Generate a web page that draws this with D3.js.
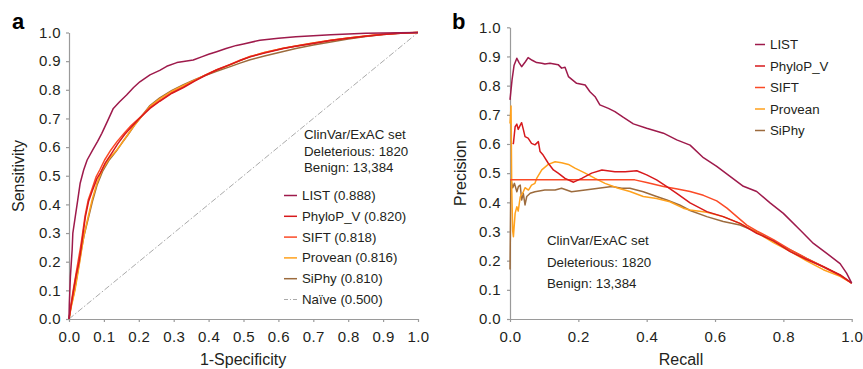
<!DOCTYPE html>
<html>
<head>
<meta charset="utf-8">
<script src="https://cdn.jsdelivr.net/npm/d3@7"></script>
<style>
  body { margin: 0; background: #fff; }
  svg { font-family: "Liberation Sans", Arial, sans-serif; }
</style>
</head>
<body>
<svg id="chart" width="863" height="369"></svg>
<script>
// ---- data ----
const methods = ["LIST", "PhyloP_V", "SIFT", "Provean", "SiPhy"];
const aucValues = ["0.888", "0.820", "0.818", "0.816", "0.810"];
const naiveAuc = "0.500";
const colors = ["#9e1a4b", "#d7191c", "#fb4a26", "#ffa11c", "#9c6b3d"];

const rocTicks = [0, 0.1, 0.2, 0.3, 0.4, 0.5, 0.6, 0.7, 0.8, 0.9, 1.0];
const prTicksX = [0, 0.2, 0.4, 0.6, 0.8, 1.0];
const prTicksY = [0, 0.1, 0.2, 0.3, 0.4, 0.5, 0.6, 0.7, 0.8, 0.9, 1.0];

const setInfo = ["ClinVar/ExAC set", "Deleterious: 1820", "Benign: 13,384"];

// ROC curves [1-specificity, sensitivity]
const rocLIST = [[0,0],[0.001,0.055],[0.004,0.148],[0.009,0.241],[0.011,0.3],[0.018,0.357],[0.025,0.415],[0.032,0.474],[0.042,0.52],[0.052,0.555],[0.068,0.59],[0.082,0.62],[0.094,0.648],[0.11,0.69],[0.127,0.735],[0.145,0.758],[0.165,0.782],[0.185,0.808],[0.203,0.828],[0.232,0.852],[0.26,0.868],[0.28,0.882],[0.309,0.895],[0.328,0.899],[0.356,0.904],[0.38,0.915],[0.4,0.924],[0.423,0.933],[0.45,0.944],[0.48,0.955],[0.5,0.96],[0.547,0.973],[0.6,0.98],[0.65,0.985],[0.7,0.989],[0.75,0.992],[0.8,0.995],[0.85,0.997],[0.9,0.998],[0.95,0.999],[1,1]];
const rocPhyloP = [[0,0],[0.005,0.04],[0.013,0.1],[0.02,0.15],[0.028,0.194],[0.034,0.24],[0.039,0.287],[0.047,0.357],[0.056,0.41],[0.066,0.445],[0.08,0.49],[0.09,0.51],[0.104,0.545],[0.123,0.58],[0.14,0.612],[0.16,0.645],[0.18,0.672],[0.2,0.698],[0.232,0.735],[0.26,0.76],[0.295,0.788],[0.328,0.808],[0.36,0.83],[0.39,0.85],[0.423,0.869],[0.46,0.887],[0.49,0.902],[0.519,0.915],[0.56,0.928],[0.614,0.944],[0.65,0.952],[0.7,0.962],[0.75,0.972],[0.8,0.98],[0.85,0.987],[0.9,0.993],[0.95,0.997],[1,1]];
const rocSIFT = [[0,0],[0.005,0.045],[0.012,0.1],[0.019,0.15],[0.026,0.2],[0.033,0.25],[0.038,0.29],[0.046,0.36],[0.055,0.415],[0.065,0.45],[0.078,0.497],[0.088,0.52],[0.102,0.555],[0.12,0.59],[0.138,0.62],[0.158,0.648],[0.178,0.675],[0.2,0.7],[0.232,0.738],[0.26,0.762],[0.295,0.79],[0.328,0.81],[0.36,0.832],[0.39,0.851],[0.423,0.87],[0.46,0.888],[0.49,0.903],[0.519,0.916],[0.56,0.93],[0.614,0.945],[0.65,0.953],[0.7,0.963],[0.75,0.973],[0.8,0.981],[0.85,0.988],[0.9,0.994],[0.95,0.998],[1,1]];
const rocProvean = [[0,0],[0.006,0.04],[0.017,0.1],[0.024,0.15],[0.03,0.194],[0.036,0.24],[0.042,0.287],[0.055,0.357],[0.066,0.415],[0.08,0.474],[0.095,0.52],[0.115,0.56],[0.137,0.59],[0.155,0.62],[0.172,0.65],[0.19,0.68],[0.203,0.7],[0.232,0.742],[0.26,0.768],[0.295,0.795],[0.328,0.815],[0.36,0.834],[0.39,0.851],[0.423,0.869],[0.46,0.886],[0.49,0.902],[0.519,0.916],[0.56,0.93],[0.614,0.945],[0.65,0.953],[0.7,0.963],[0.75,0.973],[0.8,0.981],[0.85,0.988],[0.9,0.994],[0.95,0.998],[1,1]];
const rocSiPhy = [[0,0],[0.006,0.045],[0.016,0.1],[0.023,0.15],[0.03,0.2],[0.036,0.245],[0.043,0.29],[0.056,0.355],[0.067,0.41],[0.081,0.47],[0.096,0.515],[0.114,0.553],[0.135,0.585],[0.152,0.615],[0.17,0.645],[0.188,0.677],[0.203,0.7],[0.232,0.745],[0.26,0.772],[0.295,0.798],[0.328,0.818],[0.36,0.835],[0.39,0.85],[0.423,0.865],[0.46,0.88],[0.49,0.893],[0.519,0.905],[0.56,0.918],[0.614,0.934],[0.65,0.944],[0.7,0.956],[0.75,0.967],[0.8,0.977],[0.85,0.986],[0.9,0.993],[0.95,0.997],[1,1]];
const rocNaive = [[0,0],[1,1]];

// Precision-recall curves [recall, precision]
const prLIST = [[0,0.751],[0.006,0.82],[0.012,0.87],[0.02,0.894],[0.026,0.88],[0.034,0.865],[0.045,0.882],[0.053,0.896],[0.065,0.887],[0.078,0.879],[0.093,0.877],[0.102,0.874],[0.117,0.877],[0.141,0.872],[0.151,0.86],[0.161,0.863],[0.171,0.831],[0.195,0.808],[0.22,0.802],[0.234,0.779],[0.249,0.762],[0.263,0.734],[0.288,0.722],[0.307,0.711],[0.332,0.691],[0.361,0.669],[0.4,0.654],[0.449,0.637],[0.488,0.614],[0.527,0.596],[0.566,0.553],[0.605,0.523],[0.644,0.489],[0.683,0.455],[0.722,0.437],[0.761,0.398],[0.8,0.362],[0.849,0.305],[0.888,0.259],[0.927,0.225],[0.966,0.19],[0.985,0.157],[1,0.123]];
const prPhyloP = [[0.008,0.6],[0.01,0.602],[0.015,0.659],[0.02,0.668],[0.024,0.65],[0.029,0.662],[0.034,0.673],[0.039,0.65],[0.044,0.625],[0.053,0.62],[0.063,0.602],[0.073,0.597],[0.083,0.608],[0.088,0.574],[0.097,0.562],[0.112,0.534],[0.127,0.511],[0.141,0.5],[0.161,0.482],[0.186,0.469],[0.21,0.482],[0.239,0.5],[0.269,0.511],[0.307,0.505],[0.337,0.505],[0.371,0.508],[0.4,0.494],[0.429,0.477],[0.459,0.454],[0.488,0.431],[0.527,0.398],[0.576,0.368],[0.624,0.351],[0.673,0.328],[0.722,0.294],[0.771,0.268],[0.82,0.231],[0.868,0.204],[0.917,0.179],[0.966,0.151],[1,0.123]];
const prSIFT = [[0,0.477],[0.1,0.477],[0.2,0.477],[0.3,0.477],[0.365,0.477],[0.4,0.468],[0.449,0.454],[0.49,0.446],[0.527,0.437],[0.566,0.424],[0.605,0.405],[0.635,0.38],[0.663,0.352],[0.693,0.322],[0.722,0.302],[0.771,0.272],[0.82,0.238],[0.868,0.208],[0.917,0.179],[0.966,0.149],[1,0.123]];
const prProvean = [[0,0.67],[0.003,0.73],[0.004,0.6],[0.005,0.45],[0.008,0.3],[0.01,0.282],[0.015,0.362],[0.02,0.385],[0.024,0.37],[0.03,0.419],[0.039,0.436],[0.044,0.45],[0.054,0.442],[0.063,0.459],[0.073,0.465],[0.078,0.482],[0.093,0.511],[0.112,0.53],[0.132,0.539],[0.151,0.536],[0.171,0.53],[0.19,0.517],[0.22,0.5],[0.249,0.482],[0.278,0.465],[0.317,0.448],[0.351,0.437],[0.39,0.42],[0.429,0.413],[0.468,0.402],[0.507,0.38],[0.527,0.374],[0.576,0.366],[0.624,0.351],[0.673,0.328],[0.722,0.297],[0.771,0.262],[0.82,0.232],[0.868,0.199],[0.917,0.169],[0.966,0.146],[1,0.123]];
const prSiPhy = [[0,0.17],[0.002,0.4],[0.003,0.477],[0.008,0.45],[0.013,0.465],[0.02,0.436],[0.025,0.455],[0.03,0.459],[0.034,0.408],[0.039,0.43],[0.044,0.391],[0.049,0.42],[0.059,0.431],[0.073,0.436],[0.102,0.442],[0.132,0.442],[0.151,0.448],[0.18,0.436],[0.22,0.442],[0.259,0.448],[0.298,0.454],[0.327,0.448],[0.351,0.448],[0.39,0.436],[0.429,0.42],[0.459,0.408],[0.498,0.39],[0.527,0.372],[0.576,0.351],[0.624,0.334],[0.673,0.322],[0.722,0.299],[0.771,0.265],[0.82,0.237],[0.868,0.208],[0.917,0.179],[0.966,0.151],[1,0.123]];

const rocCurves = [rocLIST, rocPhyloP, rocSIFT, rocProvean, rocSiPhy];
const prCurves = [prLIST, prPhyloP, prSIFT, prProvean, prSiPhy];

// ---- drawing ----
const svg = d3.select("#chart");
const axisColor = "#9a9a9a";
const textColor = "#231f20";

function styleAxis(g) {
  g.selectAll("path.domain").attr("stroke", axisColor).attr("stroke-width", 1.2);
  g.selectAll(".tick line").attr("stroke", axisColor).attr("stroke-width", 1.2);
  g.selectAll(".tick text").attr("fill", textColor)
    .style("font-size", "15px").style("letter-spacing", "0.4px");
}

const fmt = d3.format(".1f");

// panel a
const xA = d3.scaleLinear().domain([0, 1]).range([69, 418]);
const yA = d3.scaleLinear().domain([0, 1]).range([319, 32.5]);

svg.append("g").attr("transform", "translate(0,319)")
  .call(d3.axisBottom(xA).tickValues(rocTicks).tickFormat(fmt).tickSize(3).tickSizeOuter(0).tickPadding(9.5))
  .call(styleAxis);
svg.append("g").attr("transform", "translate(69,0)")
  .call(d3.axisLeft(yA).tickValues(rocTicks).tickFormat(fmt).tickSize(3).tickSizeOuter(0).tickPadding(5))
  .call(styleAxis);

const lineA = d3.line().x(d => xA(d[0])).y(d => yA(d[1]));
svg.append("path").datum(rocNaive).attr("d", lineA)
  .attr("fill", "none").attr("stroke", "#aaaaaa").attr("stroke-width", 1)
  .attr("stroke-dasharray", "6,2,1.5,2");
// draw in reverse so LIST ends on top
rocCurves.map((c, i) => [c, i]).reverse().forEach(([c, i]) => {
  svg.append("path").datum(c).attr("d", lineA)
    .attr("fill", "none").attr("stroke", colors[i]).attr("stroke-width", 1.5)
    .attr("stroke-linejoin", "round");
});

// panel b
const xB = d3.scaleLinear().domain([0, 1]).range([510, 851.7]);
const yB = d3.scaleLinear().domain([0, 1]).range([319, 27.3]);

svg.append("g").attr("transform", "translate(0,319)")
  .call(d3.axisBottom(xB).tickValues(prTicksX).tickFormat(fmt).tickSize(3).tickSizeOuter(0).tickPadding(9.5))
  .call(styleAxis);
svg.append("g").attr("transform", "translate(510,0)")
  .call(d3.axisLeft(yB).tickValues(prTicksY).tickFormat(fmt).tickSize(3).tickSizeOuter(0).tickPadding(6))
  .call(styleAxis);

const lineB = d3.line().x(d => xB(d[0])).y(d => yB(d[1]));
const prOrder = [4, 3, 2, 1, 0];
prOrder.forEach(i => {
  svg.append("path").datum(prCurves[i]).attr("d", lineB)
    .attr("fill", "none").attr("stroke", colors[i]).attr("stroke-width", 1.5)
    .attr("stroke-linejoin", "round");
});

// axis titles
svg.append("text").attr("x", 243).attr("y", 365).attr("text-anchor", "middle")
  .attr("fill", textColor).style("font-size", "16px").text("1-Specificity");
svg.append("text").attr("transform", "translate(24,176) rotate(-90)").attr("text-anchor", "middle")
  .attr("fill", textColor).style("font-size", "16px").text("Sensitivity");
svg.append("text").attr("x", 681).attr("y", 365).attr("text-anchor", "middle")
  .attr("fill", textColor).style("font-size", "16px").text("Recall");
svg.append("text").attr("transform", "translate(466,173) rotate(-90)").attr("text-anchor", "middle")
  .attr("fill", textColor).style("font-size", "16px").text("Precision");

// panel letters
svg.append("text").attr("x", 12).attr("y", 29).attr("fill", "#000")
  .style("font-size", "22px").style("font-weight", "bold").text("a");
svg.append("text").attr("x", 452).attr("y", 29).attr("fill", "#000")
  .style("font-size", "22px").style("font-weight", "bold").text("b");

// panel a set info + legend
setInfo.forEach((t, i) => {
  svg.append("text").attr("x", 304).attr("y", 139 + i * 16.5)
    .attr("fill", textColor).style("font-size", "13.3px").text(t);
});
const legA = methods.map((m, i) => ({ label: m + " (" + aucValues[i] + ")", color: colors[i], dash: null }))
  .concat([{ label: "Na\u00efve (" + naiveAuc + ")", color: "#aaaaaa", dash: "4,2,1,2" }]);
legA.forEach((d, i) => {
  const y = 200 + i * 20.8;
  svg.append("line").attr("x1", 284).attr("x2", 297).attr("y1", y - 4.5).attr("y2", y - 4.5)
    .attr("stroke", d.color).attr("stroke-width", d.dash ? 1 : 1.5).attr("stroke-dasharray", d.dash);
  svg.append("text").attr("x", 302).attr("y", y)
    .attr("fill", textColor).style("font-size", "13.3px").text(d.label);
});

// panel b legend + set info
methods.forEach((m, i) => {
  const y = 49 + i * 21.5;
  svg.append("line").attr("x1", 755).attr("x2", 765).attr("y1", y - 4.5).attr("y2", y - 4.5)
    .attr("stroke", colors[i]).attr("stroke-width", 1.5);
  svg.append("text").attr("x", 770).attr("y", y)
    .attr("fill", textColor).style("font-size", "13.3px").text(m);
});
setInfo.forEach((t, i) => {
  svg.append("text").attr("x", 547).attr("y", 245 + i * 21.6)
    .attr("fill", textColor).style("font-size", "13.3px").text(t);
});
</script>
</body>
</html>
